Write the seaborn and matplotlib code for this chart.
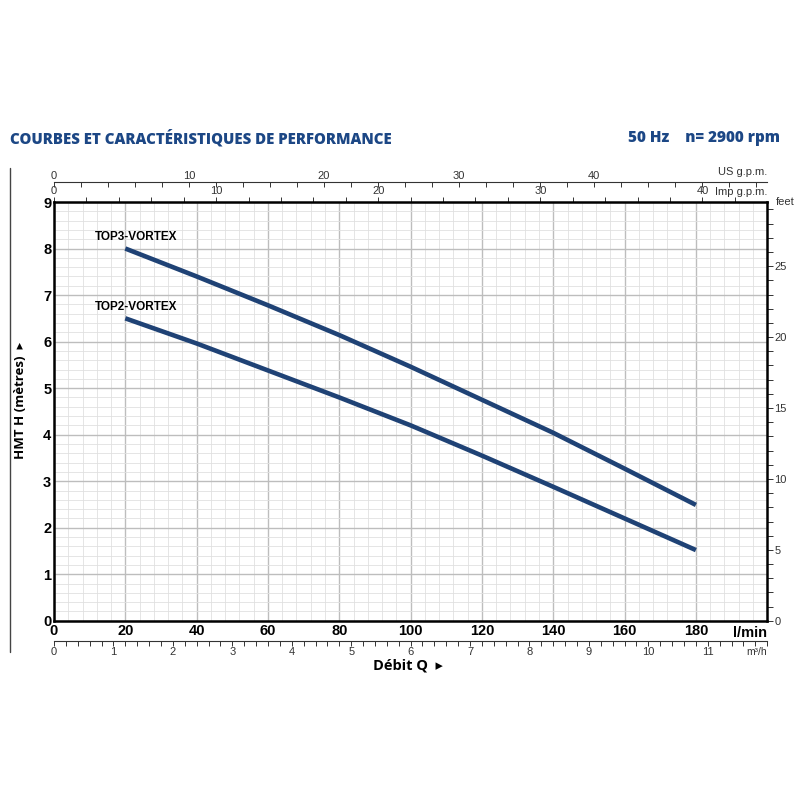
import matplotlib
matplotlib.use("Agg")
import pandas as pd
import matplotlib.pyplot as plt
import seaborn as sns
from matplotlib.ticker import MultipleLocator
from matplotlib.lines import Line2D

# debit en l/min, hauteur en metres
debit = [20, 40, 60, 80, 100, 120, 140, 160, 180]
h_top3 = [8.0, 7.4, 6.78, 6.14, 5.46, 4.75, 4.04, 3.27, 2.49]
h_top2 = [6.5, 5.96, 5.38, 4.8, 4.2, 3.55, 2.88, 2.2, 1.52]
modeles = ["TOP3-VORTEX", "TOP2-VORTEX"]

x_ticks = [0, 20, 40, 60, 80, 100, 120, 140, 160, 180]
y_ticks = [0, 1, 2, 3, 4, 5, 6, 7, 8, 9]
feet_ticks = [0, 5, 10, 15, 20, 25]
us_ticks = [0, 10, 20, 30, 40]
imp_ticks = [0, 10, 20, 30, 40]
m3h_ticks = [0, 1, 2, 3, 4, 5, 6, 7, 8, 9, 10, 11]

df = pd.DataFrame({
    "Q": debit + debit,
    "H": h_top3 + h_top2,
    "modele": [modeles[0]] * len(debit) + [modeles[1]] * len(debit),
})

navy = "#1f4275"
titre_bleu = "#1c4785"
narrow = ["Liberation Sans", "DejaVu Sans"]
humanist = ["Open Sans", "DejaVu Sans"]

sns.set_theme(style="white")
plt.rcParams["font.family"] = narrow
plt.rcParams["text.color"] = "black"
plt.rcParams["xtick.color"] = "black"
plt.rcParams["ytick.color"] = "black"

fig = plt.figure(figsize=(8, 8), dpi=100)
ax = fig.add_axes([0.0675, 0.224, 0.8915, 0.5235])

# grille
ax.set_xlim(0, 200)
ax.set_ylim(0, 9)
ax.xaxis.set_minor_locator(MultipleLocator(4))
ax.yaxis.set_minor_locator(MultipleLocator(0.2))
ax.grid(True, which="major", color="#bdbdbd", lw=1.0)
ax.grid(True, which="minor", color="#e0e0e0", lw=0.6)
ax.set_axisbelow(True)

sns.lineplot(data=df, x="Q", y="H", hue="modele", palette=[navy, navy],
             lw=3.3, legend=False, ax=ax, solid_capstyle="butt")

for s in ax.spines.values():
    s.set_color("black")
    s.set_linewidth(1.8)

ax.set_xticks(x_ticks)
ax.set_xticklabels([str(v) for v in x_ticks], fontsize=10.5, fontweight="bold")
ax.set_yticks(y_ticks)
ax.set_yticklabels([str(v) for v in y_ticks], fontsize=10.5, fontweight="bold")
ax.tick_params(which="both", length=0, pad=2, labelcolor="black")
ax.set_xlabel("")
ax.set_ylabel("")
ax.text(1.0, -0.012, "l/min", transform=ax.transAxes, ha="right", va="top",
        fontsize=10.5, fontweight="bold")

# noms des courbes
ax.text(11.5, 8.25, modeles[0], fontsize=8.5, fontweight="bold", va="center")
ax.text(11.5, 6.74, modeles[1], fontsize=8.5, fontweight="bold", va="center")

# axe feet a droite
sec_y = ax.secondary_yaxis("right", functions=(lambda m: m * 3.28084, lambda f: f / 3.28084))
sec_y.set_yticks(feet_ticks)
sec_y.yaxis.set_minor_locator(MultipleLocator(1))
sec_y.tick_params(which="both", direction="out", length=4, width=0.7, colors="#333333",
                  labelsize=8, pad=1)
sec_y.spines["right"].set_visible(False)
ax.text(1.012, 1.0, "feet", transform=ax.transAxes, ha="left", va="center",
        fontsize=8, color="#333333")

# axe Imp g.p.m.
sec_imp = ax.secondary_xaxis("top", functions=(lambda q: q / 4.546, lambda g: g * 4.546))
sec_imp.set_xticks(imp_ticks)
sec_imp.xaxis.set_minor_locator(MultipleLocator(2))
sec_imp.tick_params(which="both", direction="out", length=3.5, width=0.7, colors="#333333",
                    labelsize=8, pad=1)
sec_imp.spines["top"].set_visible(False)
ax.text(1.0, 1.012, "Imp g.p.m.", transform=ax.transAxes, ha="right", va="bottom",
        fontsize=8, color="#333333")

# axe US g.p.m.
sec_us = ax.secondary_xaxis(1.048, functions=(lambda q: q / 3.785, lambda g: g * 3.785))
sec_us.set_xticks(us_ticks)
sec_us.xaxis.set_minor_locator(MultipleLocator(2))
sec_us.tick_params(which="both", direction="in", length=3.5, width=0.7, colors="#333333",
                   labelsize=8, pad=1)
sec_us.spines["top"].set_color("#333333")
sec_us.spines["top"].set_linewidth(0.8)
ax.text(1.0, 1.06, "US g.p.m.", transform=ax.transAxes, ha="right", va="bottom",
        fontsize=8, color="#333333")

# axe m3/h
sec_m3 = ax.secondary_xaxis(-0.048, functions=(lambda q: q * 0.06, lambda m: m / 0.06))
sec_m3.set_xticks(m3h_ticks)
sec_m3.xaxis.set_minor_locator(MultipleLocator(0.2))
sec_m3.tick_params(which="both", direction="out", length=3.5, width=0.7, colors="#333333",
                   labelsize=8, pad=1)
sec_m3.spines["bottom"].set_color("#333333")
sec_m3.spines["bottom"].set_linewidth(0.8)
ax.text(1.0, -0.062, "m³/h", transform=ax.transAxes, ha="right", va="top",
        fontsize=7.5, color="#333333")

# titres
fig.text(0.51, 0.168, "Débit Q  ▸", ha="center", va="center", fontsize=10.5,
         fontweight="bold", family=humanist)
fig.text(0.026, 0.5, "HMT H (mètres)  ▸", ha="center", va="center", rotation=90,
         fontsize=9.5, fontweight="bold", family=humanist)
fig.text(0.012, 0.827, "COURBES ET CARACTÉRISTIQUES DE PERFORMANCE", ha="left", va="center",
         fontsize=10.8, fontweight="heavy", color=titre_bleu, family=humanist)
fig.text(0.975, 0.827, "50 Hz    n= 2900 rpm", ha="right", va="center",
         fontsize=11, fontweight="heavy", color=titre_bleu, family=humanist)

# trait vertical du cadre
fig.add_artist(Line2D([0.0125, 0.0125], [0.185, 0.79], transform=fig.transFigure,
                      color="#444444", lw=1.0))

fig.savefig("out.png", dpi=100, facecolor="white")
